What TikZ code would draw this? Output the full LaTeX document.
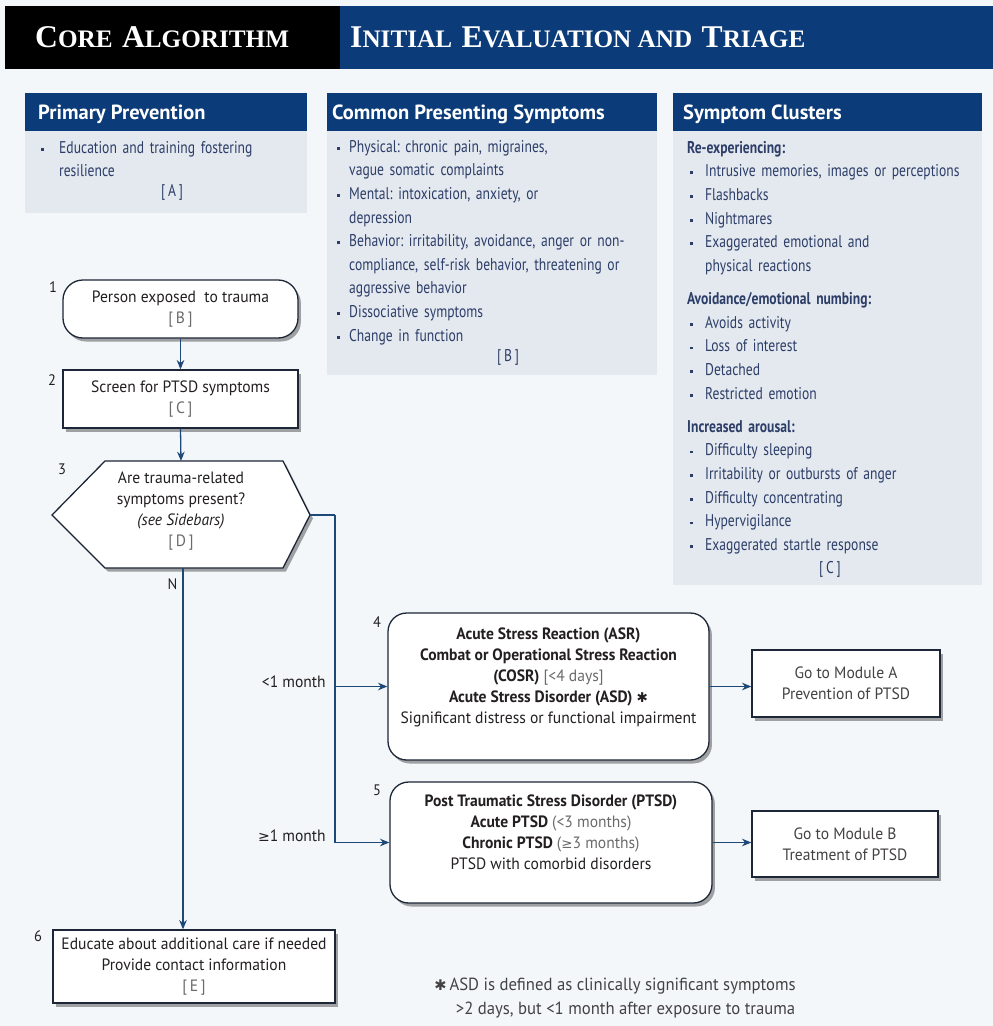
\documentclass[tikz,border=0pt]{standalone}
\usepackage{fontspec}
\setmainfont{PT Sans}
\newfontfamily\sbfont[FakeStretch=0.8]{PT Sans}
\newfontfamily\flfont[FakeStretch=0.95]{PT Sans}
\newfontfamily\hdfont{Liberation Serif}
\newfontfamily\symfont{DejaVu Sans}
\usetikzlibrary{arrows.meta,shadows}

\definecolor{pagebg}{HTML}{F3F7FA}
\definecolor{navy}{HTML}{0B3B78}
\definecolor{panel}{HTML}{E4E9EF}
\definecolor{paneltext}{HTML}{2C3D68}
\definecolor{flowline}{HTML}{1E4878}
\definecolor{boxline}{HTML}{1C2636}
\definecolor{flowtext}{HTML}{231F20}
\definecolor{refgray}{HTML}{6A6A6A}

% list helpers for the sidebar panels (each one closes its own paragraph)
\newlength\bulind
\newcommand\bitem[1]{\noindent\hangindent=\bulind\hangafter=1%
  \makebox[\bulind][l]{\hspace{2.5pt}\rule[0.28ex]{2.4pt}{2.4pt}}#1\par}
\newcommand\phead[1]{\noindent\textbf{#1}\par}
\newcommand\pheadsp[1]{\vspace{8pt}\noindent\textbf{#1}\par}
\newcommand\smc[2]{{\fontsize{27}{27}\selectfont #1}{\fontsize{21.5}{27}\selectfont #2}}
\newcommand\wsp{\hspace{8pt}}

\begin{document}
\begin{tikzpicture}[x=0.03cm,y=-0.03cm,
  panelhead/.style={anchor=base west,inner sep=0pt,text=white,
    font=\bfseries\fontsize{17.5}{20}\selectfont},
  paneltxt/.style={anchor=base west,inner sep=0pt,text=paneltext,text width=12cm,
    font=\sbfont\fontsize{14.5}{20.2}\selectfont\frenchspacing,align=left},
  reflabel/.style={text=paneltext,inner sep=0pt,font=\sbfont\fontsize{14.5}{20}\selectfont},
  shadowed/.style={drop shadow={shadow xshift=2.5pt,shadow yshift=-3pt,fill=black,opacity=0.35}},
  flowbox/.style={draw=boxline,line width=1.1pt,fill=white,align=center,shadowed,
    text=flowtext,font=\flfont\fontsize{14}{18}\selectfont,inner sep=2pt},
  roundbox/.style={flowbox,rounded corners=14pt},
  numlabel/.style={text=flowtext,inner sep=0pt,font=\flfont\fontsize{13}{16}\selectfont},
  conn/.style={draw=flowline,line width=1.1pt},
  arr/.style={conn,-{Stealth[length=8pt,width=6.5pt]}},
  branchlabel/.style={text=flowtext,inner sep=0pt,anchor=east,font=\flfont\fontsize{14}{16}\selectfont}
]
\useasboundingbox[fill=pagebg] (0,0) rectangle (993,1026);

% title bar
\fill[black] (5,6) rectangle (340,69);
\fill[navy] (340,6) rectangle (993,69);
\node[anchor=base west,inner sep=0pt,text=white,font=\hdfont\bfseries] (titleL) at (35,47)
  {\smc{C}{ORE}\wsp\smc{A}{LGORITHM}};
\node[anchor=base west,inner sep=0pt,text=white,font=\hdfont\bfseries] (titleR) at (350,47)
  {\smc{I}{NITIAL}\wsp\smc{E}{VALUATION AND}\wsp\smc{T}{RIAGE}};

% sidebar panels
\fill[panel] (25,130) rectangle (307,213);
\fill[navy] (25,93) rectangle (307,131);
\node[panelhead] (ppHead) at (38,119) {Primary Prevention};
\node[paneltxt] (ppText) at (38,153) {\setlength\bulind{17.9pt}%
  \bitem{Education and training fostering\newline resilience}};
\node[reflabel] (ppRef) at (172,192) {[\,A\,]};

\fill[panel] (327,130) rectangle (657,375);
\fill[navy] (327,93) rectangle (657,131);
\node[panelhead] (cpHead) at (332,119) {Common Presenting Symptoms};
\node[paneltxt] (cpText) at (334,152) {\setlength\bulind{12.8pt}%
  \bitem{Physical: chronic pain, migraines,\newline vague somatic complaints}
  \bitem{Mental: intoxication, anxiety, or\newline depression}
  \bitem{Behavior: irritability, avoidance, anger or non-\newline compliance, self-risk behavior, threatening or\newline aggressive behavior}
  \bitem{Dissociative symptoms}
  \bitem{Change in function}};
\node[reflabel] (cpRef) at (508,357) {[\,B\,]};

\fill[panel] (673,130) rectangle (982,585);
\fill[navy] (673,93) rectangle (982,131);
\node[panelhead] (scHead) at (683,119) {Symptom Clusters};
\node[paneltxt] (scText) at (687,153) {\setlength\bulind{15.3pt}%
  \phead{Re-experiencing:}
  \bitem{Intrusive memories, images or perceptions}
  \bitem{Flashbacks}
  \bitem{Nightmares}
  \bitem{Exaggerated emotional and\newline physical reactions}
  \pheadsp{Avoidance/emotional numbing:}
  \bitem{Avoids activity}
  \bitem{Loss of interest}
  \bitem{Detached}
  \bitem{Restricted emotion}
  \pheadsp{Increased arousal:}
  \bitem{Difficulty sleeping}
  \bitem{Irritability or outbursts of anger}
  \bitem{Difficulty concentrating}
  \bitem{Hypervigilance}
  \bitem{Exaggerated startle response}};
\node[reflabel] (scRef) at (830,569) {[\,C\,]};

% flowchart boxes
\node[roundbox,rounded corners=17pt,minimum width=7.05cm,minimum height=1.74cm] (n1) at (180.5,309)
  {Person exposed~ to trauma\\{\color{refgray}[\,B\,]}};
\node[flowbox,minimum width=7.05cm,minimum height=1.74cm] (n2) at (180.5,399)
  {Screen for PTSD symptoms\\{\color{refgray}[\,C\,]}};

% decision hexagon
\draw[draw=boxline,line width=1.1pt,fill=white,shadowed]
  (52,515) -- (105,461) -- (283,461) -- (310,515) -- (283,568) -- (105,568) -- cycle;
\node[align=center,text=flowtext,font=\flfont\fontsize{14}{18}\selectfont] (n3) at (181,511)
  {Are trauma-related\\symptoms present?\\{\itshape (see Sidebars)}\\{\color{refgray}[\,D\,]}};
\coordinate (n3top) at (181,461);
\coordinate (n3bot) at (183,568);
\coordinate (n3right) at (310,515);
\coordinate (trunk) at (335,515);

\node[roundbox,rounded corners=16pt,minimum width=9.63cm,minimum height=4.41cm] (n4) at (548.5,686.5)
  {\textbf{Acute Stress Reaction (ASR)}\\
   \textbf{Combat or Operational Stress Reaction}\\
   \textbf{(COSR)} {\color{refgray}[<4 days]}\\
   \textbf{Acute Stress Disorder (ASD)} {\symfont\fontsize{11.5}{18}\selectfont ✱}\\
   Significant distress or functional impairment\\ \mbox{}};
\node[roundbox,rounded corners=16pt,minimum width=9.66cm,minimum height=3.63cm] (n5) at (551,842.5)
  {\textbf{Post Traumatic Stress Disorder (PTSD)}\\
   \textbf{Acute PTSD} {\color{refgray}(<3 months)}\\
   \textbf{Chronic PTSD} {\color{refgray}({\symfont\fontsize{11.5}{18}\selectfont ≥}3 months)}\\
   PTSD with comorbid disorders\\ \mbox{}};

\node[flowbox,minimum width=5.64cm,minimum height=2.01cm,text=flowtext!85] (modA) at (846,683.5)
  {Go to Module A\\Prevention of PTSD};
\node[flowbox,minimum width=5.58cm,minimum height=1.98cm,text=flowtext!85] (modB) at (845,844)
  {Go to Module B\\Treatment of PTSD};

\node[flowbox,minimum width=8.46cm,minimum height=2.19cm] (n6) at (194,966.5)
  {Educate about additional care if needed\\Provide contact information\\{\color{refgray}[\,E\,]}};

% step numbers
\node[numlabel] (num1) at (53,287) {1};
\node[numlabel] (num2) at (52,380) {2};
\node[numlabel] (num3) at (62,469) {3};
\node[numlabel] (num4) at (377,622) {4};
\node[numlabel] (num5) at (377,790) {5};
\node[numlabel] (num6) at (38,936) {6};

% connectors
\draw[arr] (n1.south) -- (n2.north);
\draw[arr] (n2.south) -- (n3top);
\draw[arr] (n3bot) -- (n3bot |- n6.north)
  node[pos=0.045,left=1pt,text=flowtext,font=\flfont\fontsize{13}{16}\selectfont] (nLabel) {N};
\draw[conn] (n3right) -- (trunk);
\draw[arr] (trunk) |- (n5.west);
\draw[arr] (trunk |- n4.west) -- (n4.west);
\draw[arr] (n4.east) -- (n4.east -| modA.west);
\draw[arr] (n5.east) -- (n5.east -| modB.west);
\node[branchlabel] (lt1) at (326,682) {<1 month};
\node[branchlabel] (ge1) at (326,836) {{\symfont\fontsize{12}{16}\selectfont ≥}1 month};

% footnote
\node[align=center,text=flowtext!85,inner sep=0pt,font=\flfont\fontsize{15}{20}\selectfont] (note) at (615,998)
  {{\symfont\fontsize{12.5}{20}\selectfont ✱}\,ASD is defined as clinically significant symptoms\\
   \hspace*{1.2em}>2 days, but <1 month after exposure to trauma};
\end{tikzpicture}
\end{document}
